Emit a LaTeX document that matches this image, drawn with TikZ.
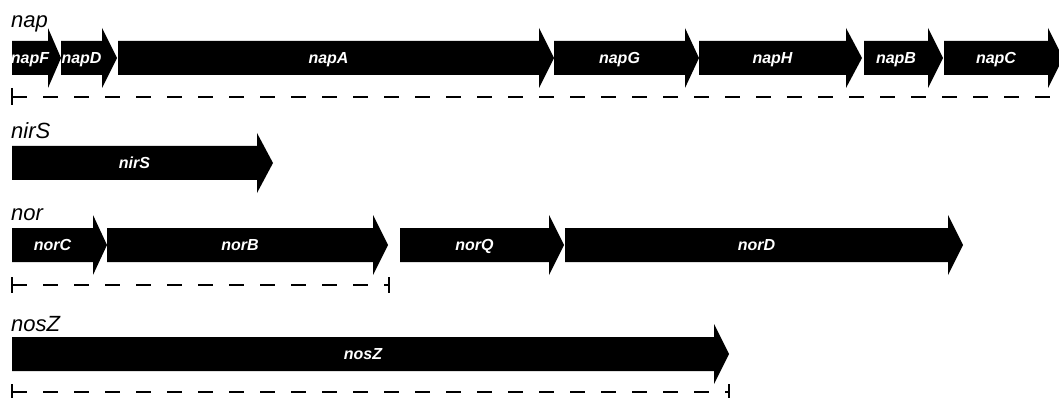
\documentclass[tikz,border=0pt]{standalone}
\usepackage{fontspec}
\setmainfont{Liberation Sans}
\newcommand{\genearrow}[6]{%
  \fill[genefill] (#2,#5-17) -- (#3,#5-17) -- (#3,#5-30) -- (#4,#5) -- (#3,#5+30) -- (#3,#5+17) -- (#2,#5+17) -- cycle;
  \node[genelabel] (#1) at ({(#2+#3)/2},#5+5.5) {#6};
}
\begin{document}
\begin{tikzpicture}[x=1pt,y=-1pt,
  genefill/.style={fill=black},
  genelabel/.style={anchor=base,inner sep=0pt,text=white,font=\fontsize{16}{16}\selectfont\bfseries\itshape},
  rowtitle/.style={anchor=base west,inner sep=0pt,font=\fontsize{22}{22}\selectfont\itshape},
  scaleline/.style={line width=2.9pt,dash pattern=on 15pt off 16pt},
  scaletick/.style={line width=2.3pt}]
\useasboundingbox (0,0) rectangle (1059,398);
\clip (0,0) rectangle (1059,398);
\fill[white] (0,0) rectangle (1059,398);
% nap
\node[rowtitle] (tnap) at (11,28) {nap};
\genearrow{napF}{12}{48}{61}{58}{napF}
\genearrow{napD}{61}{102}{117}{58}{napD}
\genearrow{napA}{118}{539}{554}{58}{napA}
\genearrow{napG}{554}{685}{699}{58}{napG}
\genearrow{napH}{699}{846}{862}{58}{napH}
\genearrow{napB}{864}{928}{943}{58}{napB}
\genearrow{napC}{944}{1048}{1063}{58}{napC}
\coordinate (napL) at (12,97);
\coordinate (napR) at (1070,97);
\draw[scaleline] (napL) -- (napR);
\draw[scaletick] (12,88) -- (12,105);
% nirS
\node[rowtitle] (tnir) at (11,139) {nirS};
\genearrow{nirS}{12}{257}{273}{163}{nirS}
% nor
\node[rowtitle] (tnor) at (11,220) {nor};
\genearrow{norC}{12}{93}{107}{245}{norC}
\genearrow{norB}{107}{373}{388}{245}{norB}
\genearrow{norQ}{400}{549}{564}{245}{norQ}
\genearrow{norD}{565}{948}{963}{245}{norD}
\coordinate (norL) at (12,285);
\coordinate (norR) at (389,285);
\draw[scaleline] (norL) -- (norR);
\draw[scaletick] (12,277) -- (12,293);
\draw[scaletick] (389,277) -- (389,293);
% nosZ
\node[rowtitle] (tnos) at (11,331) {nosZ};
\genearrow{nosZ}{12}{714}{729}{354}{nosZ}
\coordinate (nosL) at (12,392);
\coordinate (nosR) at (729,392);
\draw[scaleline] (nosL) -- (nosR);
\draw[scaletick] (12,384) -- (12,400);
\draw[scaletick] (729,384) -- (729,400);
\end{tikzpicture}
\end{document}
